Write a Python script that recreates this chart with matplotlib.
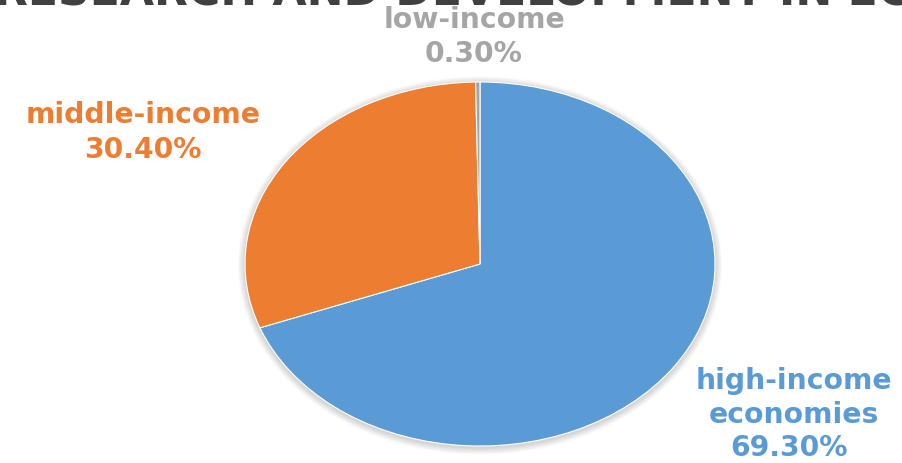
import matplotlib
matplotlib.use("Agg")
import matplotlib.pyplot as plt
from matplotlib.patches import Ellipse

categories = ["high-income economies", "middle-income", "low-income"]
values = [69.3, 30.4, 0.3]
pct_labels = ["69.30%", "30.40%", "0.30%"]
colors = ["#5B9BD5", "#ED7D31", "#A5A5A5"]
label_colors = ["#5B9BD5", "#ED7D31", "#A5A5A5"]
title = "RESEARCH AND DEVELOPMENT IN EC"

W, H = 902, 464
fig = plt.figure(figsize=(W / 100, H / 100), dpi=100)
ax = fig.add_axes([0, 0, 1, 1])

cx, cy, rx, ry = 480, 265, 235, 182

# soft shadow around the pie
for d in range(7, 0, -1):
    ax.add_patch(Ellipse((0, -1.5 / ry), 2 * (1 + d / rx), 2 * (1 + d / ry),
                         facecolor="black", edgecolor="none", alpha=0.025,
                         zorder=0))

ax.pie(values, colors=colors, startangle=90, counterclock=False,
       wedgeprops=dict(edgecolor="white", linewidth=0.8, zorder=1))
ax.set_aspect("auto")
ax.set_xlim(-cx / rx, (W - cx) / rx)
ax.set_ylim(-(H - cy) / ry, cy / ry)
ax.axis("off")

renderer = fig.canvas.get_renderer()
font = "DejaVu Sans"


def px(x, y):
    return x / W, 1 - y / H


def fitted_size(x_left, x_right, s, base_size=20):
    t = fig.text(0, 0, s, fontsize=base_size, fontweight="bold",
                 family=font, va="baseline", ha="left")
    w = t.get_window_extent(renderer).width
    t.remove()
    return base_size * (x_right - x_left) / w


def label(xc, y_base, s, color, size):
    fig.text(*px(xc, y_base), s, ha="center", va="baseline", fontsize=size,
             fontweight="bold", color=color, family=font)


# title, cut off at the top edge as in the reference
tsize = fitted_size(-6, 912, title, base_size=30)
fig.text(*px(-6, 5), title, ha="left", va="baseline", fontsize=tsize,
         fontweight="bold", color="#404040", family=font)

lsize = fitted_size(25, 260, "middle-income")

label(474, 28, categories[2], label_colors[2], lsize)
label(474, 62, pct_labels[2], label_colors[2], lsize)

label(143, 123, categories[1], label_colors[1], lsize)
label(143, 158, pct_labels[1], label_colors[1], lsize)

hi1, hi2 = categories[0].split(" ")
label(794, 389, hi1, label_colors[0], lsize)
label(794, 423, hi2, label_colors[0], lsize)
label(789, 456, pct_labels[0], label_colors[0], lsize)

fig.savefig("out.png", dpi=100)
